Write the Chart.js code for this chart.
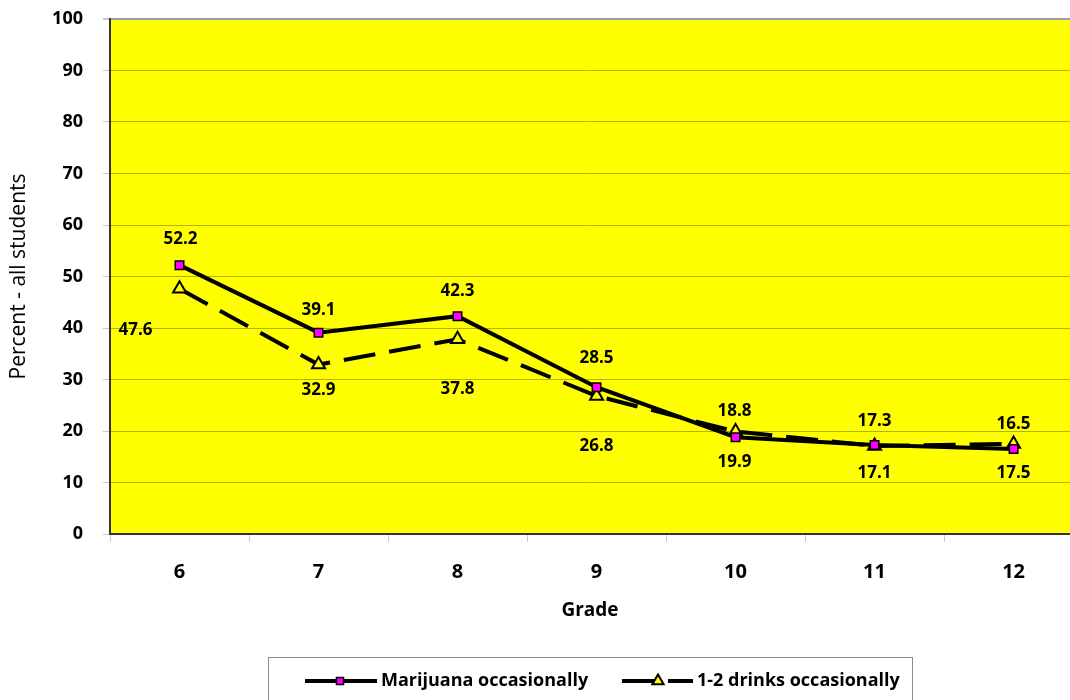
<!DOCTYPE html>
<html>
<head>
<meta charset="utf-8">
<title>Grade chart</title>
<script src="https://cdn.jsdelivr.net/npm/chart.js@4/dist/chart.umd.min.js"></script>
<style>
  html, body { margin: 0; padding: 0; background: #fff; overflow: hidden; }
  #wrap { width: 1070px; height: 700px; }
</style>
</head>
<body>
<div id="wrap"><canvas id="gradeChart" width="1070" height="700"></canvas></div>
<script>
// data
const grades = [6, 7, 8, 9, 10, 11, 12];
const marijuana = [52.2, 39.1, 42.3, 28.5, 18.8, 17.3, 16.5];
const drinks = [47.6, 32.9, 37.8, 26.8, 19.9, 17.1, 17.5];
const yTicks = [0, 10, 20, 30, 40, 50, 60, 70, 80, 90, 100];

const fontFamily = "'Open Sans', 'Noto Sans', sans-serif";

// where each value label sits relative to its point
const labelOffsets = [
    [[1, -26], [0, -22], [0, -25], [0, -29], [-1, -26], [0, -24], [0, -25]],
    [[-44, 41], [0, 26], [0, 50], [0, 50], [-1, 31], [0, 27], [0, 29]]
];

// yellow plot area
const plotBackground = {
    id: 'plotBackground',
    beforeDraw(chart) {
        const { ctx, chartArea: a } = chart;
        ctx.save();
        ctx.fillStyle = '#ffff00';
        ctx.fillRect(a.left, a.top, a.right - a.left, a.bottom - a.top);
        ctx.restore();
    }
};

// numbers next to every point
const valueLabels = {
    id: 'valueLabels',
    afterDatasetsDraw(chart) {
        const ctx = chart.ctx;
        ctx.save();
        ctx.font = 'bold 17px ' + fontFamily;
        ctx.fillStyle = '#000';
        ctx.textAlign = 'center';
        ctx.textBaseline = 'middle';
        chart.data.datasets.forEach((ds, di) => {
            chart.getDatasetMeta(di).data.forEach((pt, i) => {
                const off = labelOffsets[di][i];
                ctx.fillText(ds.data[i].toFixed(1), pt.x + off[0], pt.y + off[1]);
            });
        });
        ctx.restore();
    }
};

// boxed legend with line + marker samples
const lineLegend = {
    id: 'lineLegend',
    afterDraw(chart) {
        const ctx = chart.ctx;
        const y = 681;
        const items = [
            { x0: 305, x1: 377, mid: 340 },
            { x0: 622, x1: 693, mid: 658 }
        ];
        ctx.save();
        ctx.strokeStyle = '#8c8c8c';
        ctx.lineWidth = 1;
        ctx.strokeRect(268.5, 657.5, 644, 60);

        chart.data.datasets.forEach((ds, i) => {
            const it = items[i];
            ctx.strokeStyle = ds.borderColor;
            ctx.lineWidth = ds.borderWidth;
            ctx.setLineDash(ds.borderDash || []);
            ctx.beginPath();
            ctx.moveTo(it.x0, y);
            ctx.lineTo(it.x1, y);
            ctx.stroke();
            ctx.setLineDash([]);

            ctx.fillStyle = ds.pointBackgroundColor;
            ctx.strokeStyle = ds.pointBorderColor;
            ctx.lineWidth = ds.pointBorderWidth;
            Chart.helpers.drawPoint(ctx, {
                pointStyle: ds.pointStyle,
                radius: ds.pointRadius - 1,
                borderWidth: ds.pointBorderWidth,
                rotation: 0
            }, it.mid, y);

            ctx.fillStyle = '#000';
            ctx.font = 'bold 18px ' + fontFamily;
            ctx.textAlign = 'left';
            ctx.textBaseline = 'middle';
            ctx.fillText(ds.label, it.x1 + 4, y);
        });
        ctx.restore();
    }
};

const tickFont = { family: fontFamily, size: 18, weight: 'bold' };

new Chart(document.getElementById('gradeChart'), {
    type: 'line',
    data: {
        labels: grades,
        datasets: [
            {
                label: 'Marijuana occasionally',
                data: marijuana,
                borderColor: '#000',
                borderWidth: 4,
                tension: 0,
                fill: false,
                pointStyle: 'rect',
                pointRadius: 6,
                pointBackgroundColor: '#ff00ff',
                pointBorderColor: '#000',
                pointBorderWidth: 1.5
            },
            {
                label: '1-2 drinks occasionally',
                data: drinks,
                borderColor: '#000',
                borderWidth: 4,
                borderDash: [32, 14],
                tension: 0,
                fill: false,
                pointStyle: 'triangle',
                pointRadius: 7.5,
                pointBackgroundColor: '#ffff00',
                pointBorderColor: '#000',
                pointBorderWidth: 2
            }
        ]
    },
    options: {
        responsive: false,
        devicePixelRatio: 1,
        animation: false,
        layout: {
            autoPadding: false,
            padding: { top: 19, right: 0, left: 0, bottom: 0 }
        },
        plugins: {
            legend: { display: false },
            tooltip: { enabled: false }
        },
        scales: {
            x: {
                type: 'linear',
                min: 5.5,
                max: 12.406,
                afterBuildTicks: s => { s.ticks = grades.map(v => ({ value: v })); },
                afterFit: s => {
                    s.height = 166;
                    s.paddingLeft = 0;
                    s.paddingRight = 0;
                },
                grid: {
                    offset: true,
                    drawOnChartArea: false,
                    tickLength: 8,
                    tickColor: '#c8c8c8'
                },
                border: { color: '#333', width: 2 },
                ticks: {
                    font: { family: fontFamily, size: 20, weight: 'bold' },
                    color: '#000',
                    padding: 18,
                    maxRotation: 0,
                    autoSkip: false
                },
                title: {
                    display: true,
                    text: 'Grade',
                    color: '#000',
                    font: { family: fontFamily, size: 19, weight: 'bold' },
                    padding: { top: 0, bottom: 78 }
                }
            },
            y: {
                min: 0,
                max: 100,
                afterBuildTicks: s => { s.ticks = yTicks.map(v => ({ value: v })); },
                afterFit: s => {
                    s.width = 110;
                    s.paddingTop = 0;
                    s.paddingBottom = 0;
                },
                grid: {
                    color: c => c.tick && c.tick.value === 100 ? '#a0a0a0' : '#b4b400',
                    lineWidth: c => c.tick && c.tick.value === 100 ? 2 : 1,
                    tickLength: 7,
                    tickColor: '#c8c8c8'
                },
                border: { color: '#333', width: 2 },
                ticks: {
                    font: tickFont,
                    color: '#000',
                    padding: 20
                },
                title: {
                    display: true,
                    text: 'Percent - all students',
                    color: '#000',
                    font: { family: fontFamily, size: 21, weight: 'normal' },
                    padding: { top: 6, bottom: 0 }
                }
            }
        }
    },
    plugins: [plotBackground, valueLabels, lineLegend]
});
</script>
</body>
</html>
